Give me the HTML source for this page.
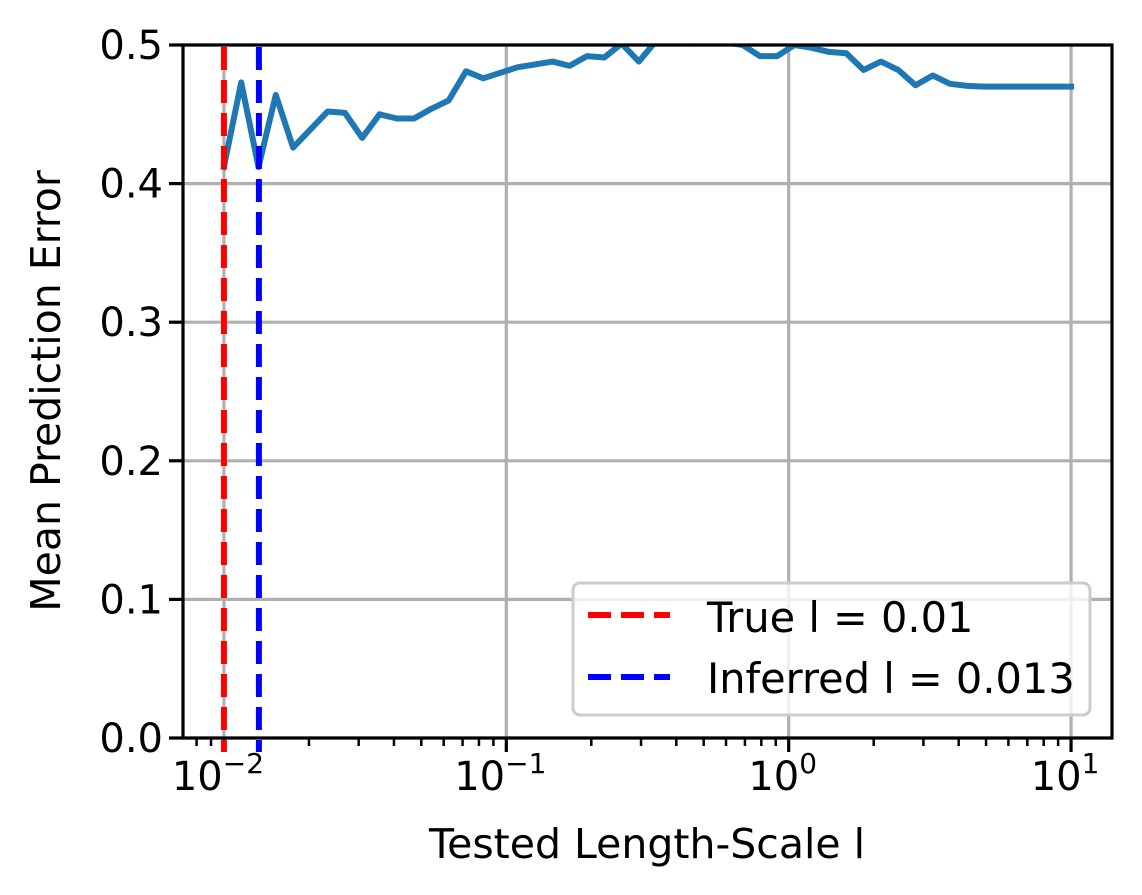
<!DOCTYPE html>
<html><head><meta charset="utf-8"><style>
html,body{margin:0;padding:0;background:#fff;}
svg{display:block;font-family:"DejaVu Sans","Liberation Sans",sans-serif;}
</style></head><body>
<svg id="chart" width="1142" height="895" viewBox="0 0 1142 895" xmlns="http://www.w3.org/2000/svg">
<defs><clipPath id="plotclip"><rect x="183" y="45" width="929" height="693"/></clipPath></defs>
<g id="grid"></g>
<g id="series" clip-path="url(#plotclip)"></g>
<g id="axes"></g>
<text x="647" y="858" font-size="41" text-anchor="middle">Tested Length-Scale l</text>
<text transform="translate(60,391) rotate(-90)" font-size="41" text-anchor="middle">Mean Prediction Error</text>
<g>
<rect x="573" y="583" width="517" height="132" rx="7" fill="#fff" fill-opacity="0.8" stroke="#cccccc" stroke-width="3"/>
<line x1="588" y1="615" x2="670" y2="615" stroke="#ff0000" stroke-width="6" stroke-dasharray="23,10"/>
<text x="707" y="632" font-size="41.5">True l = 0.01</text>
<line x1="588" y1="677" x2="670" y2="677" stroke="#0000ff" stroke-width="6" stroke-dasharray="23,10"/>
<text x="707" y="693" font-size="41.5">Inferred l = 0.013</text>
</g>
</svg>
<script>
const xValuesLogStart = -2, xValuesLogEnd = 1, nPoints = 50;
const errorValues = [0.412,0.473,0.412,0.464,0.426,0.439,0.452,0.451,0.433,0.450,
0.447,0.447,0.454,0.460,0.481,0.476,0.480,0.484,0.486,0.488,
0.485,0.492,0.491,0.501,0.488,0.503,0.502,0.501,0.503,0.502,
0.500,0.492,0.492,0.500,0.498,0.495,0.494,0.482,0.488,0.482,
0.471,0.478,0.472,0.4705,0.470,0.470,0.470,0.470,0.470,0.470];
const trueL = 0.01;
const inferredL = 0.0133;
const yTicks = [0.0,0.1,0.2,0.3,0.4,0.5];
const yTickLabels = ["0.0","0.1","0.2","0.3","0.4","0.5"];
const xTickExps = [-2,-1,0,1];
const NS="http://www.w3.org/2000/svg";
const L=183,R=1112,T=45,B=738;
const xMinLog=-2.145,xMaxLog=1.145;
function xs(v){return L+(Math.log10(v)-xMinLog)/(xMaxLog-xMinLog)*(R-L);}
function ys(v){return B-(v-0)/(0.5-0)*(B-T);}
function mk(tag,attrs,parent){const e=document.createElementNS(NS,tag);for(const k in attrs)e.setAttribute(k,attrs[k]);parent.appendChild(e);return e;}
const grid=document.getElementById('grid'),axes=document.getElementById('axes'),series=document.getElementById('series');
yTicks.forEach((t,i)=>{
  const y=ys(t);
  const g=mk('line',{x1:L,x2:R,y1:y,y2:y,stroke:'#b0b0b0','stroke-width':3.2},grid);
  
  
  const tk=mk('line',{x1:L-14,x2:L,y1:y,y2:y,stroke:'#000','stroke-width':3.2},axes);
  
  
  const tx=mk('text',{x:L-20,y:y+14,'font-size':40,'text-anchor':'end'},axes);
  tx.textContent=yTickLabels[i];
  
  
});
xTickExps.forEach(ex=>{
  const x=xs(Math.pow(10,ex));
  const g=mk('line',{x1:x,x2:x,y1:T,y2:B,stroke:'#b0b0b0','stroke-width':3.2},grid);
  
  
  const tk=mk('line',{x1:x,x2:x,y1:B,y2:B+14,stroke:'#000','stroke-width':3.2},axes);
  
  
  const tx=mk('text',{x:x-6,y:790,'font-size':40,'text-anchor':'middle'},axes);
  
  
  const t1=mk('tspan',{},tx);t1.textContent='10';
  const t2=mk('tspan',{dy:-17,'font-size':28},tx);t2.textContent=(ex<0?'\u2212':'')+Math.abs(ex);
});
for(let ex=-3;ex<=1;ex++){for(let m=2;m<=9;m++){const v=m*Math.pow(10,ex);const lg=Math.log10(v);if(lg<xMinLog||lg>xMaxLog)continue;const x=xs(v);
  const tk=mk('line',{x1:x,x2:x,y1:B,y2:B+8,stroke:'#000','stroke-width':2.5},axes);
  
  }}
const pts=errorValues.map((v,i)=>{const lx=xValuesLogStart+i*(xValuesLogEnd-xValuesLogStart)/(nPoints-1);return xs(Math.pow(10,lx)).toFixed(1)+','+ys(v).toFixed(1);});
const line=mk('polyline',{points:pts.join(' '),fill:'none',stroke:'#1f77b4','stroke-width':6,'stroke-linejoin':'round','stroke-linecap':'square'},series);


const rl=mk('line',{x1:xs(trueL),x2:xs(trueL),y1:T+2,y2:B+14,stroke:'#ff0000','stroke-width':6,'stroke-dasharray':'23,10'},axes);


const bl=mk('line',{x1:xs(inferredL),x2:xs(inferredL),y1:T+2,y2:B+14,stroke:'#0000ff','stroke-width':6,'stroke-dasharray':'23,10'},axes);


const fr=mk('rect',{x:L,y:T,width:R-L,height:B-T,fill:'none',stroke:'#000','stroke-width':3.2},axes);


</script>
</body></html>
